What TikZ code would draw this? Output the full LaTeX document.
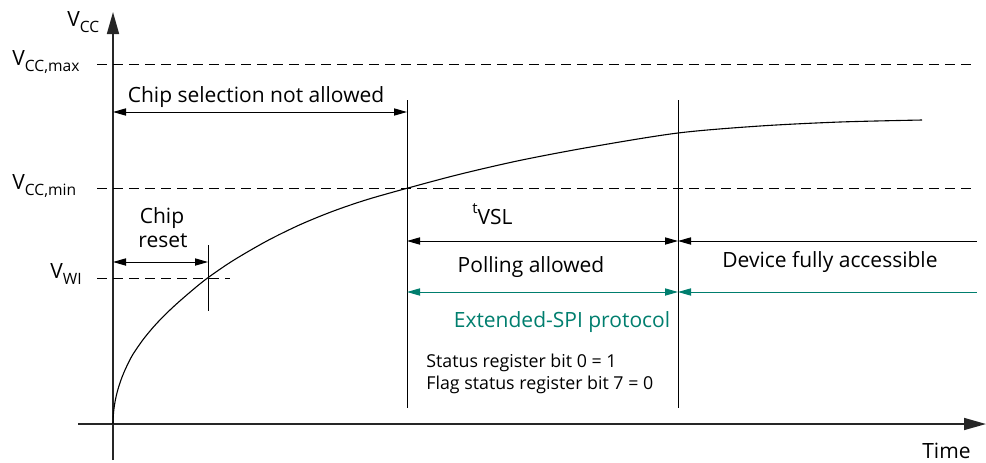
\documentclass[tikz,border=0pt]{standalone}
\usepackage{fontspec}
\setmainfont{Open Sans}
\usetikzlibrary{arrows.meta}
\definecolor{spigreen}{RGB}{0,126,110}
\newcommand{\sbs}[1]{\raisebox{-0.6ex}{\fontsize{7.8pt}{9pt}\selectfont #1}}
\tikzset{
  axis/.style={line width=0.8pt, draw=black!85, -{Triangle[length=11pt,width=6pt]}},
  dashline/.style={line width=0.5pt, dash pattern=on 5pt off 3pt},
  vline/.style={line width=0.5pt},
  dimarrow/.style={line width=0.5pt, {Triangle[length=6.5pt,width=3.6pt]}-{Triangle[length=6.5pt,width=3.6pt]}},
  leftarrow/.style={line width=0.5pt, {Triangle[length=6.5pt,width=3.6pt]}-},
  lbl/.style={font=\fontsize{10.5pt}{12pt}\selectfont, inner sep=0pt},
  small/.style={font=\fontsize{8.9pt}{11pt}\selectfont, inner sep=0pt, align=left},
}
\begin{document}
\begin{tikzpicture}[x=0.5pt,y=-0.5pt]
\useasboundingbox (0,0) rectangle (986,462);
% coordinates
\coordinate (yb) at (113,460);
\coordinate (yt) at (113,12);
\coordinate (xl) at (78,424);
\coordinate (xr) at (986,424);
\coordinate (maxL) at (97,64);  \coordinate (maxR) at (976,64);
\coordinate (minL) at (97,188); \coordinate (minR) at (976,188);
\coordinate (wiL) at (97,278);  \coordinate (wiR) at (230,278);
\coordinate (v1t) at (407,100); \coordinate (v1b) at (407,408);
\coordinate (v2t) at (678,100); \coordinate (v2b) at (678,408);
\coordinate (rt) at (208,245);  \coordinate (rb) at (208,311);
\coordinate (csL) at (113,112); \coordinate (csR) at (407,112);
\coordinate (crL) at (113,262); \coordinate (crR) at (208,262);
\coordinate (tvL) at (407,241); \coordinate (tvR) at (678,241); \coordinate (tvE) at (977,241);
\coordinate (gL) at (407,292);  \coordinate (gR) at (678,292);  \coordinate (gE) at (977,292);
% axes
\draw[axis] (yb) -- (yt);
\draw[axis] (xl) -- (xr);
% dashed levels
\draw[dashline] (maxL) -- (maxR);
\draw[dashline] (minL) -- (minR);
\draw[dashline] (wiL) -- (wiR);
% verticals
\draw[vline] (v1t) -- (v1b);
\draw[vline] (v2t) -- (v2b);
\draw[vline] (rt) -- (rb);
% curve
\draw[line width=0.55pt] plot[smooth, tension=0.5] coordinates {
 (113,424) (113.25,416.2) (114,408.4) (115.25,400.6) (117,392.8) (119.25,385)
 (122,377.2) (125.25,369.4) (129,361.6) (133.25,353.8) (143,339.7) (153,327.5)
 (163,316.8) (175,305.3) (190,292.2) (207,278.4)
 (233,260.6) (267,240.9) (300,224.7) (333,211.2) (367,199.6) (408,188)
 (460,174.2) (520,160.4) (590,147.1) (678,133) (760,126) (840,122) (922,120)};
% dimension arrows
\draw[dimarrow] (csL) -- (csR);
\draw[dimarrow] (crL) -- (crR);
\draw[dimarrow] (tvL) -- (tvR);
\draw[leftarrow] (tvR) -- (tvE);
\draw[dimarrow, spigreen] (gL) -- (gR);
\draw[leftarrow, spigreen] (gR) -- (gE);
% labels
\node[lbl, anchor=base west] (lvcc) at (67,26) {V\sbs{CC}};
\node[lbl, anchor=base west] (lmax) at (12,65) {V\sbs{CC,max}};
\node[lbl, anchor=base west] (lmin) at (12,189) {V\sbs{CC,min}};
\node[lbl, anchor=base west] (lwi) at (50,278) {V\sbs{WI}};
\node[lbl, anchor=base] (lcs) at (256,102) {Chip selection not allowed};
\node[lbl, anchor=base] (lchip) at (162,223) {Chip};
\node[lbl, anchor=base] (lreset) at (163,247) {reset};
\node[lbl, anchor=base west] (ltvsl) at (472,224) {\raisebox{0.9ex}{\fontsize{7.5pt}{8pt}\selectfont t}VSL};
\node[lbl, anchor=base] (lpoll) at (531,272) {Polling allowed};
\node[lbl, anchor=base, text=spigreen] (lspi) at (562,327) {Extended-SPI protocol};
\node[lbl, anchor=base] (ldev) at (830,267) {Device fully accessible};
\node[small, anchor=base west] (lst1) at (426,367) {Status register bit 0 = 1};
\node[small, anchor=base west] (lst2) at (426,389) {Flag status register bit 7 = 0};
\node[lbl, anchor=base east] (ltime) at (971,458) {Time};
\end{tikzpicture}
\end{document}
